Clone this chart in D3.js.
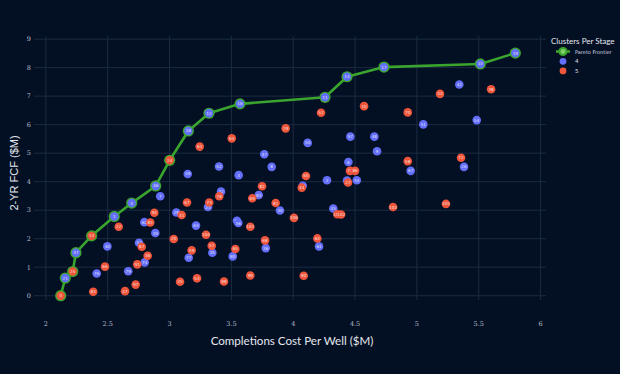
<!DOCTYPE html>
<html>
<head>
<meta charset="utf-8">
<script src="https://cdn.jsdelivr.net/npm/d3@7"></script>
<style>
  html, body { margin: 0; padding: 0; background: #031024; }
  svg { display: block; }
</style>
</head>
<body>
<div id="chart"></div>
<script>
// data: [cost $M, 2-yr FCF $M, design id]
const frontier = [
  [2.120, 0.00, 0, 5], [2.157, 0.62, 21, 4], [2.217, 0.85, 25, 5], [2.243, 1.51, 37, 4],
  [2.370, 2.10, 13, 5], [2.553, 2.78, 1, 4], [2.694, 3.25, 4, 4], [2.888, 3.85, 46, 4],
  [3.001, 4.75, 24, 5], [3.152, 5.78, 18, 4], [3.319, 6.40, 12, 4], [3.570, 6.73, 16, 4],
  [4.257, 6.96, 11, 4], [4.435, 7.68, 14, 4], [4.734, 8.02, 17, 4], [5.513, 8.13, 15, 4],
  [5.796, 8.51, 19, 4]
];

const cluster4 = [
  [2.925, 3.49, 7], [2.497, 1.73, 40], [2.411, 0.78, 76], [2.666, 0.86, 79],
  [2.796, 2.58, 62], [2.885, 2.20, 19], [2.753, 1.86, 43], [2.799, 1.17, 74],
  [3.055, 2.92, 28], [3.147, 4.27, 49], [3.214, 2.46, 63], [3.155, 1.33, 77],
  [3.311, 3.11, 23], [3.346, 1.51, 35], [3.400, 4.53, 52], [3.416, 3.65, 32],
  [3.559, 4.23, 3], [3.545, 2.63, 55], [3.556, 2.55, 56], [3.511, 1.38, 80],
  [3.721, 3.53, 83], [3.766, 4.96, 47], [3.826, 4.52, 8], [3.893, 2.99, 30],
  [3.778, 1.67, 36], [4.117, 5.36, 50], [4.077, 3.86, 39], [4.209, 1.73, 61],
  [5.343, 7.41, 42], [5.484, 6.16, 54], [5.052, 6.01, 51], [4.462, 5.58, 57],
  [4.656, 5.58, 48], [4.678, 5.07, 9], [4.446, 4.69, 6], [4.950, 4.38, 67],
  [5.381, 4.52, 26], [4.273, 4.05, 2], [4.435, 4.04, 5], [4.514, 4.05, 34],
  [4.324, 3.06, 45]
];

const cluster5 = [
  [2.383, 0.14, 84], [2.478, 1.02, 66], [2.640, 0.16, 47], [2.726, 0.39, 97],
  [2.739, 1.10, 91], [2.823, 1.40, 36], [2.775, 1.72, 87], [2.589, 2.42, 22],
  [2.844, 2.57, 85], [2.877, 2.91, 94], [3.034, 1.99, 20], [3.098, 2.83, 31],
  [3.141, 3.27, 67], [3.085, 0.49, 25], [3.179, 1.59, 59], [3.222, 0.61, 53],
  [3.244, 5.23, 61], [3.295, 2.14, 104], [3.341, 1.75, 57], [3.321, 3.27, 73],
  [3.402, 3.49, 78], [3.440, 0.50, 88], [3.503, 5.52, 64], [3.532, 1.64, 65],
  [3.653, 2.42, 101], [3.653, 0.71, 99], [3.669, 3.42, 69], [3.748, 3.84, 82],
  [3.772, 1.94, 68], [3.858, 3.25, 81], [3.939, 5.87, 29], [4.006, 2.73, 106],
  [4.069, 3.79, 44], [4.103, 4.20, 60], [4.085, 0.70, 90], [4.195, 2.01, 63],
  [4.225, 6.42, 52], [4.573, 6.65, 10], [4.926, 6.43, 70], [5.187, 7.08, 33],
  [5.600, 7.24, 38], [5.357, 4.84, 72], [4.926, 4.72, 58], [4.459, 4.38, 71],
  [4.500, 4.38, 86], [4.443, 3.97, 27], [4.357, 2.86, 100], [4.387, 2.85, 102],
  [4.807, 3.11, 103], [5.235, 3.22, 105]
];

const xTicks = [2, 2.5, 3, 3.5, 4, 4.5, 5, 5.5, 6];
const yTicks = [0, 1, 2, 3, 4, 5, 6, 7, 8, 9];
const clusterNames = ["4", "5"];
const clusterColors = { 4: "#636efa", 5: "#ef553b" };

const W = 620, H = 374;
const plot = { left: 34, right: 546, top: 36, bottom: 300 };

const svg = d3.select("#chart").append("svg")
  .attr("width", W).attr("height", H);

svg.append("rect").attr("width", W).attr("height", H).attr("fill", "#031024");

const x = d3.scaleLinear().domain([1.904, 6.044]).range([plot.left, plot.right]);
const y = d3.scaleLinear().domain([-0.15, 9.11]).range([plot.bottom, plot.top]);

// grid
const grid = svg.append("g").attr("stroke", "#1b2b42").attr("stroke-width", 1);
grid.selectAll("line.vx").data(xTicks).join("line")
  .attr("x1", d => x(d)).attr("x2", d => x(d))
  .attr("y1", plot.top).attr("y2", plot.bottom);
grid.selectAll("line.hy").data(yTicks).join("line")
  .attr("x1", plot.left).attr("x2", plot.right)
  .attr("y1", d => y(d)).attr("y2", d => y(d));

// tick labels
svg.append("g").selectAll("text").data(xTicks).join("text")
  .attr("x", d => x(d)).attr("y", 326)
  .attr("text-anchor", "middle")
  .attr("font-family", "DejaVu Serif")
  .attr("font-size", 6.5)
  .attr("fill", "#b8bfcc")
  .text(d => d);

svg.append("g").selectAll("text").data(yTicks).join("text")
  .attr("x", 31).attr("y", d => y(d) + 2.3)
  .attr("text-anchor", "end")
  .attr("font-family", "DejaVu Serif")
  .attr("font-size", 6.5)
  .attr("fill", "#b8bfcc")
  .text(d => d);

// axis titles
svg.append("text")
  .attr("x", 292).attr("y", 345)
  .attr("text-anchor", "middle")
  .attr("font-family", "Lato")
  .attr("font-size", 11.6)
  .attr("fill", "#e4e7ee")
  .text("Completions Cost Per Well ($M)");

svg.append("text")
  .attr("transform", "translate(18,173) rotate(-90)")
  .attr("text-anchor", "middle")
  .attr("font-family", "Liberation Sans")
  .attr("font-size", 11)
  .attr("fill", "#e4e7ee")
  .text("2-YR FCF ($M)");

function drawPoints(g, data, color) {
  const pt = g.selectAll("g").data(data).join("g")
    .attr("transform", d => `translate(${x(d[0])},${y(d[1])})`);
  pt.append("circle").attr("r", 4.3).attr("fill", color);
  pt.append("text")
    .attr("y", 1.5)
    .attr("text-anchor", "middle")
    .attr("font-family", "DejaVu Sans")
    .attr("font-size", 4.2)
    .attr("fill", "#ffffff")
    .attr("fill-opacity", 0.8)
    .text(d => d[2]);
}

drawPoints(svg.append("g"), cluster4, clusterColors[4]);
drawPoints(svg.append("g"), cluster5, clusterColors[5]);

// pareto frontier
const green = "#3aa52e";
svg.append("path")
  .datum(frontier)
  .attr("fill", "none")
  .attr("stroke", green)
  .attr("stroke-width", 2.6)
  .attr("stroke-linejoin", "round")
  .attr("d", d3.line().x(d => x(d[0])).y(d => y(d[1])));

const fp = svg.append("g").selectAll("g").data(frontier).join("g")
  .attr("transform", d => `translate(${x(d[0])},${y(d[1])})`);
fp.append("circle").attr("r", 5.6).attr("fill", green);
fp.append("circle").attr("r", 4.2).attr("fill", d => clusterColors[d[3]]);
fp.append("text")
  .attr("y", 1.5)
  .attr("text-anchor", "middle")
  .attr("font-family", "DejaVu Sans")
  .attr("font-size", 4.2)
  .attr("fill", "#ffffff")
  .attr("fill-opacity", 0.8)
  .text(d => d[2]);

// legend
const lg = svg.append("g").attr("transform", "translate(551,0)");
lg.append("text")
  .attr("x", 0).attr("y", 44)
  .attr("font-family", "Lato")
  .attr("font-size", 8)
  .attr("fill", "#e4e7ee")
  .text("Clusters Per Stage");

lg.append("line")
  .attr("x1", 5).attr("x2", 19).attr("y1", 51.5).attr("y2", 51.5)
  .attr("stroke", green).attr("stroke-width", 2.6);
lg.append("circle").attr("cx", 12).attr("cy", 51.5).attr("r", 4.6).attr("fill", green);
lg.append("circle").attr("cx", 12).attr("cy", 51.5).attr("r", 2.4).attr("fill", "#7fcf6a");
lg.append("text")
  .attr("x", 24).attr("y", 53.6)
  .attr("font-family", "DejaVu Sans")
  .attr("font-size", 5)
  .attr("fill", "#d8dce4")
  .text("Pareto Frontier");

clusterNames.forEach((name, i) => {
  const cy = 61.3 + i * 9.6;
  lg.append("circle").attr("cx", 12).attr("cy", cy).attr("r", 3.4).attr("fill", clusterColors[name]);
  lg.append("text")
    .attr("x", 24).attr("y", cy + 2)
    .attr("font-family", "DejaVu Sans")
    .attr("font-size", 5.6)
    .attr("fill", "#d8dce4")
    .text(name);
});
</script>
</body>
</html>
